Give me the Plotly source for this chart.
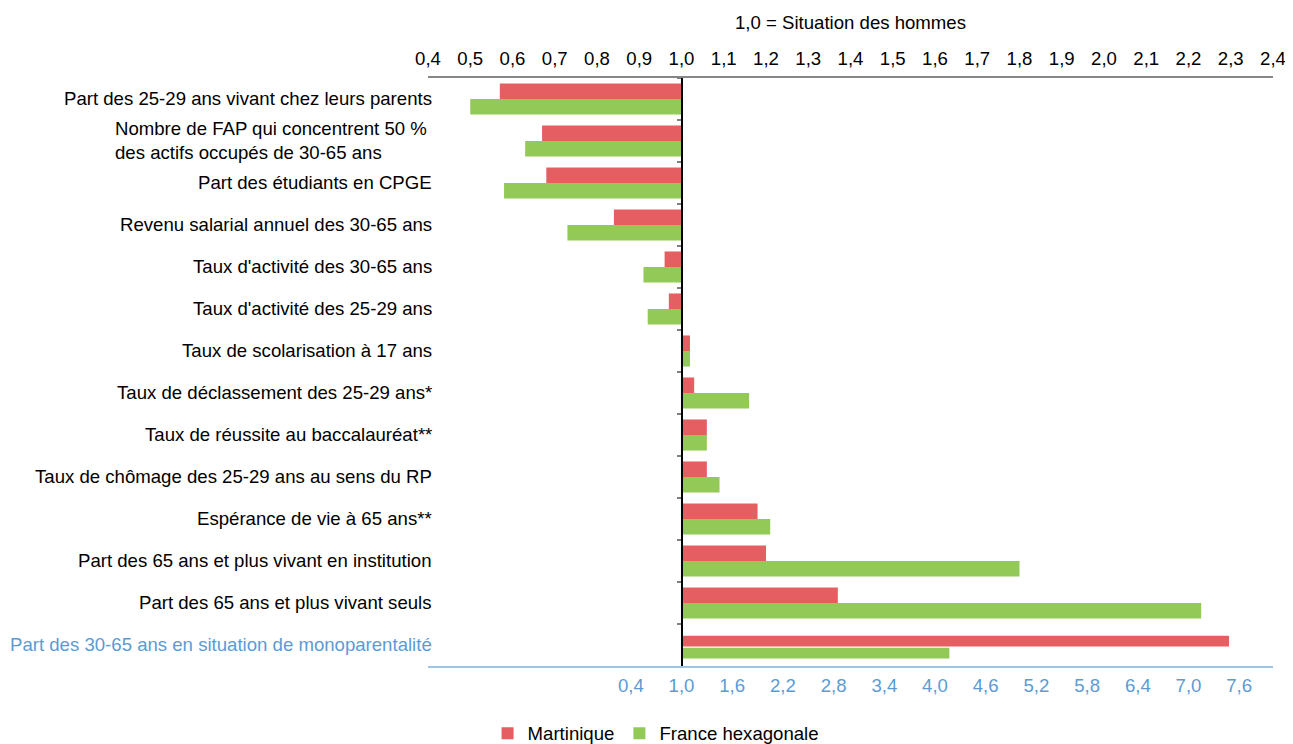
import plotly.graph_objects as go

categories = [
    "Part des 25-29 ans vivant chez leurs parents",
    "Nombre de FAP qui concentrent 50 %\ndes actifs occupés de 30-65 ans",
    "Part des étudiants en CPGE",
    "Revenu salarial annuel des 30-65 ans",
    "Taux d'activité des 30-65 ans",
    "Taux d'activité des 25-29 ans",
    "Taux de scolarisation à 17 ans",
    "Taux de déclassement des 25-29 ans*",
    "Taux de réussite au baccalauréat**",
    "Taux de chômage des 25-29 ans au sens du RP",
    "Espérance de vie à 65 ans**",
    "Part des 65 ans et plus vivant en institution",
    "Part des 65 ans et plus vivant seuls",
    "Part des 30-65 ans en situation de monoparentalité",
]
# ratio femmes / hommes (1,0 = situation des hommes); last category read on the bottom (blue) scale
martinique = [0.57, 0.67, 0.68, 0.84, 0.96, 0.97, 1.02, 1.03, 1.06, 1.06, 1.18, 1.20, 1.37, 7.48]
france_hex = [0.50, 0.63, 0.58, 0.73, 0.91, 0.92, 1.02, 1.16, 1.06, 1.09, 1.21, 1.80, 2.23, 4.17]

top_ticks = [0.4, 0.5, 0.6, 0.7, 0.8, 0.9, 1.0, 1.1, 1.2, 1.3, 1.4, 1.5, 1.6, 1.7,
             1.8, 1.9, 2.0, 2.1, 2.2, 2.3, 2.4]
bottom_ticks = [0.4, 1.0, 1.6, 2.2, 2.8, 3.4, 4.0, 4.6, 5.2, 5.8, 6.4, 7.0, 7.6]
top_range = [0.4, 2.4]
bottom_range = [-2.0, 8.0]
reference_value = 1.0

RED = "#E55E62"
GREEN = "#93C956"
BLUE = "#5B9BD5"
FONT = "Liberation Sans, Arial, sans-serif"
FS = 18.6

main_cats = categories[:-1]
last_cat = categories[-1:]

fig = go.Figure()
fig.add_trace(go.Bar(
    name="Martinique", orientation="h", y=main_cats,
    x=[v - reference_value for v in martinique[:-1]], base=reference_value,
    marker=dict(color=RED, line=dict(width=0)), xaxis="x", yaxis="y",
))
fig.add_trace(go.Bar(
    name="France hexagonale", orientation="h", y=main_cats,
    x=[v - reference_value for v in france_hex[:-1]], base=reference_value,
    marker=dict(color=GREEN, line=dict(width=0)), xaxis="x", yaxis="y",
))
fig.add_trace(go.Bar(
    name="Martinique", orientation="h", y=last_cat,
    x=[v - reference_value for v in martinique[-1:]], base=reference_value,
    marker=dict(color=RED, line=dict(width=0)), xaxis="x2", yaxis="y",
    width=0.255, offset=-0.219, showlegend=False,
))
fig.add_trace(go.Bar(
    name="France hexagonale", orientation="h", y=last_cat,
    x=[v - reference_value for v in france_hex[-1:]], base=reference_value,
    marker=dict(color=GREEN, line=dict(width=0)), xaxis="x2", yaxis="y",
    width=0.255, offset=0.067, showlegend=False,
))

# category labels (drawn at the left edge of the plot, right-aligned)
annotations = []
for i, cat in enumerate(categories):
    color = BLUE if i == len(categories) - 1 else "black"
    lines = cat.split("\n")
    if len(lines) == 1:
        text = cat
    else:
        text = lines[0] + "\u00a0<br>" + "<br>".join(lines[1:])
    annotations.append(dict(
        text=text, x=0, xref="paper", xanchor="right", xshift=6, align="left",
        y=cat, yref="y", yanchor="middle", yshift=1, showarrow=False,
        font=dict(family=FONT, size=FS, color=color)))

axis_pos = (reference_value - top_range[0]) / (top_range[1] - top_range[0])

# the page body has an 8px margin: the figure is sized so that it fills the window
fig.update_layout(
    width=1285, height=736,
    margin=dict(l=420, r=20, t=70, b=78, autoexpand=False),
    paper_bgcolor="white", plot_bgcolor="white",
    separators=", ",
    barmode="group", bargap=0.26, bargroupgap=0,
    font=dict(family=FONT, size=FS, color="black"),
    annotations=annotations,
    xaxis=dict(
        side="top", anchor="y", range=top_range,
        tickvals=top_ticks, tickformat=".1f",
        showgrid=False, zeroline=False,
        showline=True, linecolor="#868686", linewidth=1.5,
        ticks="", ticklabelstandoff=4,
        tickfont=dict(family=FONT, size=FS, color="black"),
        title=dict(text="1,0 = Situation des hommes", standoff=13,
                   font=dict(family=FONT, size=FS, color="black")),
        automargin=False,
    ),
    xaxis2=dict(
        side="bottom", overlaying="x", anchor="y", range=bottom_range,
        tickvals=bottom_ticks, tickformat=".1f",
        showgrid=False, zeroline=False,
        showline=True, linecolor="#9DC3E6", linewidth=1.5,
        ticks="", ticklabelstandoff=2,
        tickfont=dict(family=FONT, size=FS, color=BLUE),
        automargin=False,
    ),
    yaxis=dict(
        type="category", categoryorder="array", categoryarray=categories,
        range=[len(categories) - 0.5, -0.5],
        anchor="free", position=axis_pos,
        showline=True, linecolor="black", linewidth=1.5,
        ticks="outside", tickson="boundaries", ticklen=4, tickwidth=2,
        tickcolor="#7F7F7F",
        showticklabels=False, showgrid=False, zeroline=False,
        automargin=False,
    ),
    legend=dict(
        orientation="h", x=0.0705, xanchor="left", y=-0.115, yanchor="middle",
        font=dict(family=FONT, size=FS, color="black"),
        bgcolor="rgba(0,0,0,0)", traceorder="normal",
        itemwidth=30,
    ),
)

fig.write_html("out.html")
